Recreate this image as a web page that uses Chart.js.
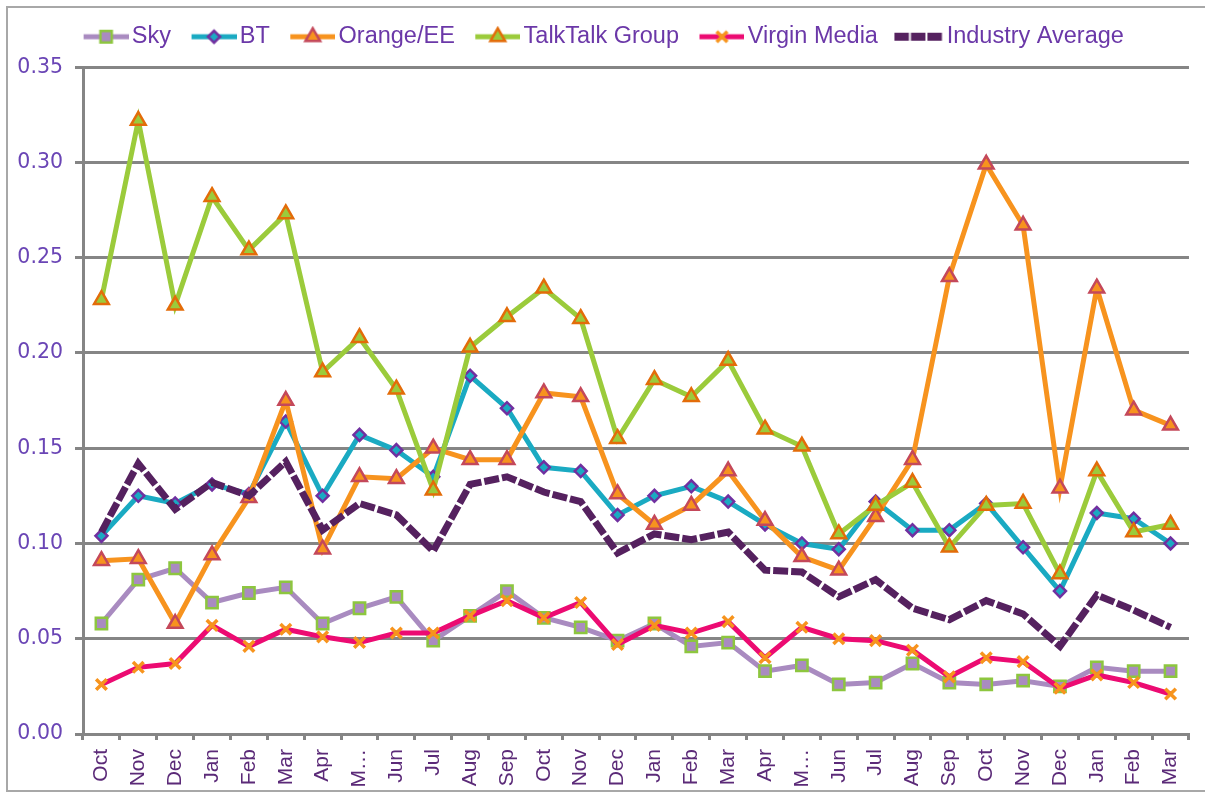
<!DOCTYPE html>
<html>
<head>
<meta charset="utf-8">
<script src="https://cdn.jsdelivr.net/npm/chart.js@4.4.1/dist/chart.umd.min.js"></script>
<style>
html, body { margin: 0; padding: 0; background: #fff; }
#wrap { position: relative; width: 1205px; height: 792px; overflow: hidden; }
#frame { position: absolute; left: 6px; top: 6px; width: 1230px; height: 782px; border: 2px solid #a8a8a8; pointer-events: none; }
</style>
</head>
<body>
<div id="wrap">
  <canvas id="chart" width="1205" height="792"></canvas>
  <div id="frame"></div>
</div>
<script>
const months = ['Oct', 'Nov', 'Dec', 'Jan', 'Feb', 'Mar', 'Apr', 'M…', 'Jun', 'Jul', 'Aug', 'Sep',
    'Oct', 'Nov', 'Dec', 'Jan', 'Feb', 'Mar', 'Apr', 'M…', 'Jun', 'Jul', 'Aug', 'Sep',
    'Oct', 'Nov', 'Dec', 'Jan', 'Feb', 'Mar'];

const sky = [0.058, 0.081, 0.087, 0.069, 0.074, 0.077, 0.058, 0.066, 0.072, 0.049,
    0.062, 0.075, 0.061, 0.056, 0.049, 0.058, 0.046, 0.048, 0.033, 0.036,
    0.026, 0.027, 0.037, 0.027, 0.026, 0.028, 0.025, 0.035, 0.033, 0.033];
const bt = [0.104, 0.125, 0.121, 0.131, 0.126, 0.164, 0.125, 0.157, 0.149, 0.135,
    0.188, 0.171, 0.140, 0.138, 0.115, 0.125, 0.130, 0.122, 0.110, 0.100,
    0.097, 0.122, 0.107, 0.107, 0.121, 0.098, 0.075, 0.116, 0.113, 0.100];
const orangeEE = [0.091, 0.092, 0.058, 0.094, 0.124, 0.175, 0.097, 0.135, 0.134, 0.150,
    0.144, 0.144, 0.179, 0.177, 0.126, 0.110, 0.120, 0.138, 0.112, 0.093,
    0.086, 0.114, 0.144, 0.240, 0.299, 0.267, 0.129, 0.234, 0.170, 0.162];
const talkTalk = [0.228, 0.322, 0.225, 0.282, 0.254, 0.273, 0.190, 0.208, 0.181, 0.128,
    0.203, 0.219, 0.234, 0.218, 0.155, 0.186, 0.177, 0.196, 0.160, 0.151,
    0.105, 0.120, 0.132, 0.098, 0.120, 0.121, 0.084, 0.138, 0.106, 0.110];
const virgin = [0.026, 0.035, 0.037, 0.057, 0.046, 0.055, 0.051, 0.048, 0.053, 0.053,
    0.062, 0.070, 0.061, 0.069, 0.047, 0.057, 0.053, 0.059, 0.040, 0.056,
    0.050, 0.049, 0.044, 0.030, 0.040, 0.038, 0.024, 0.031, 0.027, 0.021];
const industryAvg = [0.106, 0.142, 0.118, 0.132, 0.125, 0.143, 0.107, 0.121, 0.115, 0.096,
    0.131, 0.135, 0.127, 0.122, 0.095, 0.105, 0.102, 0.106, 0.086, 0.085,
    0.072, 0.081, 0.066, 0.060, 0.070, 0.063, 0.046, 0.073, 0.065, 0.056];

const GRID = '#858585';

// legend icon: line segment with the marker, drawn on the right part of a canvas
function makeIcon(ds) {
    const c = document.createElement('canvas');
    c.width = 64;
    c.height = 22;
    const ctx = c.getContext('2d');
    if (ds.borderDash) {
        ctx.fillStyle = ds.borderColor;
        for (let i = 0; i < 3; i++) {
            ctx.fillRect(15 + i * 16.5, 7, 14.5, 8);
        }
        return c;
    }
    ctx.strokeStyle = ds.borderColor;
    ctx.lineWidth = 5;
    ctx.beginPath();
    ctx.moveTo(19, 11);
    ctx.lineTo(64, 11);
    ctx.stroke();
    ctx.fillStyle = ds.pointBackgroundColor;
    ctx.strokeStyle = ds.pointBorderColor;
    ctx.lineWidth = ds.pointBorderWidth;
    Chart.helpers.drawPoint(ctx, {
        pointStyle: ds.pointStyle,
        radius: ds.pointRadius,
        rotation: 0,
        borderWidth: ds.pointBorderWidth,
    }, 41.5, 11);
    return c;
}

const datasets = [
    {
        label: 'Sky',
        data: sky,
        borderColor: '#a98bc0',
        pointStyle: 'rect',
        pointRadius: 8,
        pointBackgroundColor: '#a98bc0',
        pointBorderColor: '#8dc63f',
        pointBorderWidth: 2.5,
        order: 5,
    },
    {
        label: 'BT',
        data: bt,
        borderColor: '#1aaac2',
        pointStyle: 'rectRot',
        pointRadius: 6,
        pointBackgroundColor: '#1aaac2',
        pointBorderColor: '#7030a0',
        pointBorderWidth: 2.5,
        order: 4,
    },
    {
        label: 'Orange/EE',
        data: orangeEE,
        borderColor: '#f7931e',
        pointStyle: 'triangle',
        pointRadius: 8.5,
        pointBackgroundColor: '#f7931e',
        pointBorderColor: '#c4485a',
        pointBorderWidth: 2.5,
        order: 3,
    },
    {
        label: 'TalkTalk Group',
        data: talkTalk,
        borderColor: '#9bcb3b',
        pointStyle: 'triangle',
        pointRadius: 8.5,
        pointBackgroundColor: '#9bcb3b',
        pointBorderColor: '#e36c09',
        pointBorderWidth: 2.5,
        order: 2,
    },
    {
        label: 'Virgin Media',
        data: virgin,
        borderColor: '#ec0b72',
        pointStyle: 'crossRot',
        pointRadius: 7.5,
        pointBackgroundColor: '#f7931e',
        pointBorderColor: '#f7941d',
        pointBorderWidth: 3.5,
        order: 1,
    },
    {
        label: 'Industry Average',
        data: industryAvg,
        borderColor: '#55215f',
        borderWidth: 7,
        borderDash: [15, 3],
        pointRadius: 0,
        pointBackgroundColor: '#55215f',
        order: 0,
    },
];

datasets.forEach((ds) => {
    ds.fill = false;
    ds.tension = 0;
    ds.borderWidth = ds.borderWidth || 5;
    ds.backgroundColor = ds.borderColor;
});

const icons = datasets.map(makeIcon);

new Chart(document.getElementById('chart'), {
    type: 'line',
    data: { labels: months, datasets },
    options: {
        responsive: false,
        animation: false,
        devicePixelRatio: 1,
        layout: { padding: { top: 15, left: 7, right: 15, bottom: 0 } },
        plugins: {
            tooltip: { enabled: false },
            legend: {
                position: 'top',
                labels: {
                    usePointStyle: true,
                    pointStyleWidth: 47,
                    padding: 10,
                    color: '#6b38a8',
                    font: { family: 'Liberation Sans', size: 23.5 },
                    sort: (a, b) => a.datasetIndex - b.datasetIndex,
                    generateLabels(chart) {
                        const items = Chart.defaults.plugins.legend.labels.generateLabels(chart);
                        items.forEach((it) => { it.pointStyle = icons[it.datasetIndex]; });
                        return items;
                    },
                },
            },
            // blank spacer between legend and plot
            subtitle: {
                display: true,
                text: ' ',
                weight: 500,
                font: { size: 1 },
                padding: { top: 0, bottom: 7.5 },
            },
        },
        scales: {
            x: {
                offset: true,
                grid: {
                    offset: true,
                    drawOnChartArea: false,
                    drawTicks: true,
                    tickLength: 6,
                    color: GRID,
                    lineWidth: 3,
                },
                border: { color: GRID, width: 3 },
                ticks: {
                    autoSkip: false,
                    minRotation: 90,
                    maxRotation: 90,
                    padding: 9,
                    color: '#5b2a78',
                    font: { family: 'Liberation Sans', size: 21 },
                },
                afterFit: (s) => { s.height = 58; },
            },
            y: {
                min: 0,
                max: 0.35,
                ticks: {
                    stepSize: 0.05,
                    padding: 12,
                    color: '#6a45b5',
                    font: { family: 'DejaVu Sans', size: 20.5 },
                    callback: (v) => v.toFixed(2),
                },
                grid: { color: GRID, lineWidth: 3, tickLength: 8 },
                border: { color: GRID, width: 3 },
                afterFit: (s) => { s.width = 76; },
            },
        },
    },
});
</script>
</body>
</html>
